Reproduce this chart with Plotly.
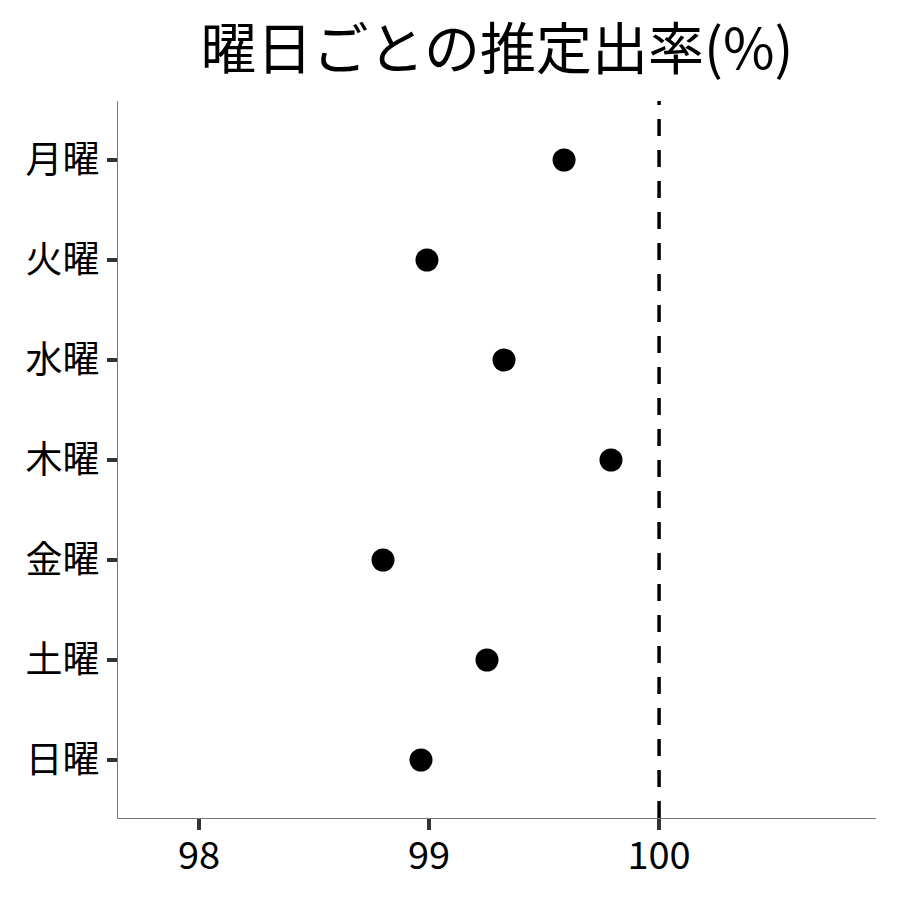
import plotly.graph_objects as go

days = ["月曜", "火曜", "水曜", "木曜", "金曜", "土曜", "日曜"]
rates = [99.587, 98.991, 99.326, 99.791, 98.80, 99.252, 98.965]
ref_value = 100
x_ticks = [98, 99, 100]

FONT = "Noto Sans CJK JP"

fig = go.Figure()
fig.add_trace(go.Scatter(
    x=rates, y=days, mode="markers",
    marker=dict(color="black", size=23, line=dict(width=0)),
    showlegend=False, hoverinfo="x+y",
))
fig.add_vline(x=ref_value, line=dict(color="black", width=3.5, dash="17px,14px"))

fig.update_layout(
    width=900, height=900,
    paper_bgcolor="white", plot_bgcolor="white",
    margin=dict(l=110, r=32, t=93, b=90),
    font=dict(family=FONT, color="black"),
    title=dict(text="曜日ごとの推定出率(%)", x=0.5, xref="paper", xanchor="center",
               y=1 - 41 / 900, yref="container", yanchor="middle",
               font=dict(family=FONT, size=56, color="black")),
    xaxis=dict(range=[97.648, 100.943], tickvals=x_ticks, ticktext=[str(v) for v in x_ticks],
               showgrid=False, zeroline=False, showline=True, linecolor="#777777", linewidth=1.3,
               ticks="outside", ticklen=11, tickwidth=4, tickcolor="#333333",
               ticklabelstandoff=-7,
               tickfont=dict(family=FONT, size=38, color="black")),
    yaxis=dict(type="category", categoryorder="array", categoryarray=days,
               range=[6.58, -0.59],
               showgrid=False, zeroline=False, showline=True, linecolor="#777777", linewidth=1.3,
               ticks="outside", ticklen=10, tickwidth=3.5, tickcolor="#333333",
               tickfont=dict(family=FONT, size=37, color="black")),
)
fig.write_html("out.html")
